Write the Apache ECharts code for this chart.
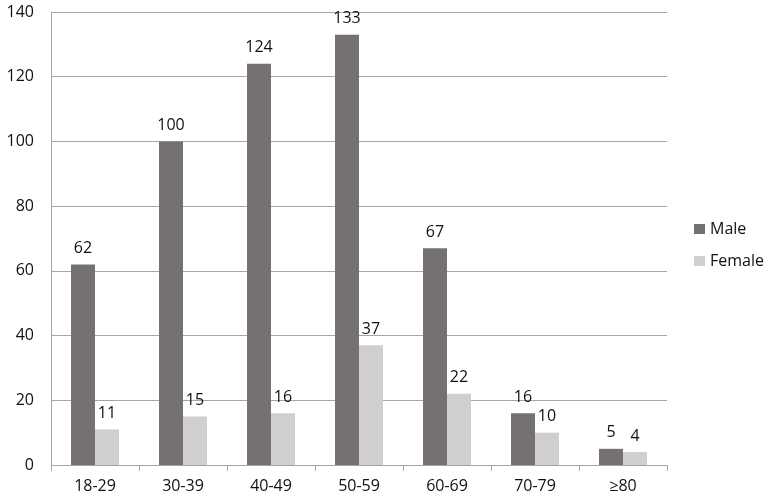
<!DOCTYPE html>
<html><head><meta charset="utf-8">
<script src="https://cdn.jsdelivr.net/npm/echarts@6/dist/echarts.min.js"></script>
<style>html,body{margin:0;padding:0;background:#fff}#c{width:765px;height:499px}</style>
</head><body><div id="c"></div>
<script>
const categories = ['18-29','30-39','40-49','50-59','60-69','70-79','≥80'];
const male = [62,100,124,133,67,16,5];
const female = [11,15,16,37,22,10,4];
const yTicks = {min:0, max:140, interval:20};

const chart = echarts.init(document.getElementById('c'));
const font = '"Open Sans", "Segoe UI", sans-serif';
chart.setOption({
  animation:false,
  textStyle:{fontFamily:font},
  grid:{left:51, right:98, top:12, bottom:34, containLabel:false},
  legend:{
    orient:'vertical', left:689, top:216, itemWidth:11, itemHeight:10, itemGap:16,
    icon:'rect', textStyle:{fontSize:16, color:'#111', fontFamily:font},
    data:['Male','Female']
  },
  xAxis:{
    type:'category', data:categories,
    axisLine:{lineStyle:{color:'#a6a6a6'}},
    axisTick:{show:true, length:6, lineStyle:{color:'#a6a6a6'}},
    axisLabel:{fontSize:16, color:'#111', margin:13, fontFamily:font}
  },
  yAxis:{
    type:'value', min:yTicks.min, max:yTicks.max, interval:yTicks.interval,
    axisLine:{show:true, lineStyle:{color:'#a6a6a6'}},
    axisTick:{show:false},
    splitLine:{lineStyle:{color:'#a6a6a6'}},
    axisLabel:{fontSize:16, color:'#111', margin:17, fontFamily:font}
  },
  series:[
    {name:'Male', type:'bar', data:male, barWidth:24, barGap:'0%', itemStyle:{color:'#767171'},
     label:{show:true, position:'top', fontSize:16, color:'#111', distance:8, fontFamily:font}},
    {name:'Female', type:'bar', data:female, barWidth:24, itemStyle:{color:'#d0cece'},
     label:{show:true, position:'top', fontSize:16, color:'#111', distance:8, fontFamily:font}}
  ]
});
</script></body></html>
